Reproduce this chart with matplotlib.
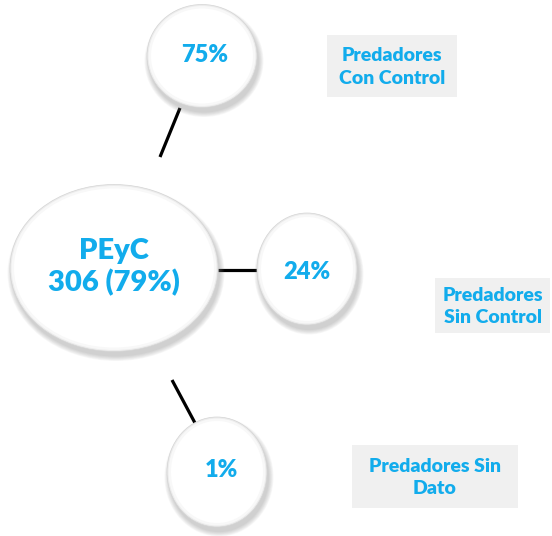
import matplotlib.pyplot as plt
from matplotlib.patches import Ellipse, FancyBboxPatch

# datos
centro_nombre = "PEyC"
centro_total = 306
centro_pct = 79
categorias = ["Predadores\nCon Control", "Predadores\nSin Control", "Predadores Sin\nDato"]
porcentajes = [75, 24, 1]

azul = "#12ACEC"
plt.rcParams['font.family'] = ['Lato', 'DejaVu Sans']

fig = plt.figure(figsize=(5.52, 5.36), dpi=100)
ax = fig.add_axes([0, 0, 1, 1])
ax.set_xlim(0, 552)
ax.set_ylim(536, 0)
ax.axis("off")


def burbuja(cx, cy, w, h):
    # sombra difusa abajo a la derecha
    for i in range(7):
        ax.add_patch(Ellipse((cx + 2, cy + 5), w + i * 1.5, h + i * 1.5,
                             facecolor="gray", edgecolor="none", alpha=0.06, zorder=2))
    ax.add_patch(Ellipse((cx, cy), w, h, facecolor="#ececec", edgecolor="#d4d4d4",
                         lw=0.5, zorder=3))
    ax.add_patch(Ellipse((cx, cy), w - 3, h - 3, facecolor="#f8f8f8", edgecolor="none", zorder=3))
    ax.add_patch(Ellipse((cx, cy), w - 8, h - 8, facecolor="white", edgecolor="none", zorder=3))


# conectores
ax.plot([180, 160], [108, 157], color="black", lw=2.3, solid_capstyle="butt", zorder=1)
ax.plot([218, 258], [270, 270], color="black", lw=2.3, solid_capstyle="butt", zorder=1)
ax.plot([172, 195], [380, 423], color="black", lw=2.3, solid_capstyle="butt", zorder=1)

# burbuja central
burbuja(114, 268, 208, 167)
ax.text(114, 267, f"{centro_nombre}\n{centro_total} ({centro_pct}%)", ha="center", va="center",
        fontsize=21, fontweight="heavy", color=azul, linespacing=1.22, zorder=4)

# burbujas de categorias
pos_burbujas = [(202, 56, 110, 103), (307, 269, 100, 112), (217, 472, 100, 110)]
pos_textos = [(205, 55), (307, 272), (221, 470)]
for (cx, cy, w, h), (tx, ty), p in zip(pos_burbujas, pos_textos, porcentajes):
    burbuja(cx, cy, w, h)
    ax.text(tx, ty, f"{p}%", ha="center", va="center", fontsize=17,
            fontweight="heavy", color=azul, zorder=4)

# etiquetas
cajas = [(327, 35, 130, 62), (435, 278, 115, 55), (352, 445, 166, 63)]
for (x0, y0, w, h), cat in zip(cajas, categorias):
    ax.add_patch(FancyBboxPatch((x0, y0), w, h, boxstyle="square,pad=0",
                                facecolor="#f0f0f0", edgecolor="none", zorder=1))
    ax.text(x0 + w / 2, y0 + h / 2 + 1, cat, ha="center", va="center", fontsize=14,
            fontweight="heavy", color=azul, linespacing=1.38, zorder=2)

fig.savefig("out.png", dpi=100)
